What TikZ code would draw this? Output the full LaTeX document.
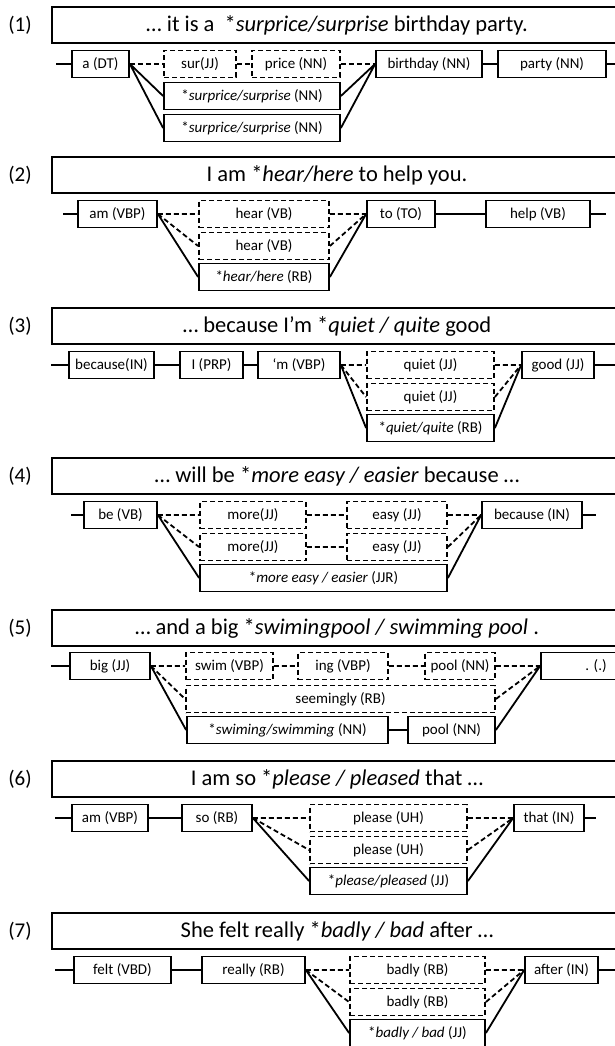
\documentclass[tikz,border=0pt]{standalone}
\usepackage{fontspec}
\setmainfont{Carlito}
\usetikzlibrary{calc}
\tikzset{
  sentbox/.style={draw,line width=1.8pt,minimum width=570,minimum height=36,inner sep=0pt,font=\fontsize{22.5}{26}\selectfont},
  numlbl/.style={inner sep=0pt,font=\fontsize{21}{24}\selectfont},
  tok/.style={draw,line width=1.8pt,minimum height=27,inner sep=0pt,font=\fontsize{15}{17}\selectfont},
  alttok/.style={tok,dash pattern=on 5pt off 3pt},
  link/.style={line width=1.8pt},
  altlink/.style={line width=1.8pt,dash pattern=on 5pt off 3pt}
}

\begin{document}
\begin{tikzpicture}[x=1pt,y=-1pt]
\useasboundingbox (0,0) rectangle (615,1046);

\node[numlbl] (n1) at (20,25) {(1)};
\node[sentbox] (s1) at (337,25) {… it is a\ \ *\textit{surprice/surprise} birthday party.};
\coordinate (l1) at (56,64);
\coordinate (e1) at (622,64);
\node[tok,minimum width=57] (a1) at (100.5,64) {a (DT)};
\node[alttok,minimum width=72] (sur1) at (200,64) {sur(JJ)};
\node[alttok,minimum width=88] (price1) at (296,64) {price (NN)};
\node[tok,minimum width=106] (birthday1) at (429,64) {birthday (NN)};
\node[tok,minimum width=108] (party1) at (552,64) {party (NN)};
\node[tok,minimum width=176] (surpA1) at (252,96) {*\textit{surprice/surprise} (NN)};
\node[tok,minimum width=176] (surpB1) at (252,128) {*\textit{surprice/surprise} (NN)};
\draw[link] (l1) -- (a1.west) (birthday1) -- (party1) (party1.east) -- (e1);
\draw[altlink] (a1) -- (sur1) -- (price1) -- (birthday1);
\draw[link] (a1.east) -- (surpA1.west) (a1.east) -- (surpB1.west)
  (surpA1.east) -- (birthday1.west) (surpB1.east) -- (birthday1.west);

\node[numlbl] (n2) at (20,175) {(2)};
\node[sentbox] (s2) at (337,175) {I am *\textit{hear/here} to help you.};
\coordinate (l2) at (63,214);
\coordinate (e2) at (606,214);
\node[tok,minimum width=79] (am2) at (117.5,214) {am (VBP)};
\node[alttok,minimum width=130] (hearA2) at (264,214) {hear (VB)};
\node[alttok,minimum width=130] (hearB2) at (264,246) {hear (VB)};
\node[tok,minimum width=130] (hearC2) at (264,277) {*\textit{hear/here} (RB)};
\node[tok,minimum width=68] (to2) at (401,214) {to (TO)};
\node[tok,minimum width=104] (help2) at (538,214) {help (VB)};
\draw[link] (l2) -- (am2.west) (to2) -- (help2) (help2.east) -- (e2);
\draw[altlink] (am2.east) -- (hearA2.west) (am2.east) -- (hearB2.west)
  (hearA2.east) -- (to2.west) (hearB2.east) -- (to2.west);
\draw[link] (am2.east) -- (hearC2.west) (hearC2.east) -- (to2.west);

\node[numlbl] (n3) at (20,326) {(3)};
\node[sentbox] (s3) at (337,326) {… because I’m *\textit{quiet / quite} good};
\coordinate (l3) at (51,365);
\coordinate (e3) at (622,365);
\node[tok,minimum width=85] (because3) at (111.5,365) {because(IN)};
\node[tok,minimum width=63] (i3) at (211.5,365) {I (PRP)};
\node[tok,minimum width=82] (m3) at (299,365) {‘m (VBP)};
\node[alttok,minimum width=127] (quietA3) at (430.5,365) {quiet (JJ)};
\node[alttok,minimum width=127] (quietB3) at (430.5,397) {quiet (JJ)};
\node[tok,minimum width=127] (quietC3) at (430.5,428) {*\textit{quiet/quite} (RB)};
\node[tok,minimum width=72] (good3) at (558,365) {good (JJ)};
\draw[link] (l3) -- (because3.west) (because3) -- (i3) -- (m3) (good3.east) -- (e3);
\draw[altlink] (m3.east) -- (quietA3.west) (m3.east) -- (quietB3.west)
  (quietA3.east) -- (good3.west) (quietB3.east) -- (good3.west);
\draw[link] (m3.east) -- (quietC3.west) (quietC3.east) -- (good3.west);

\node[numlbl] (n4) at (20,476) {(4)};
\node[sentbox] (s4) at (337,476) {… will be *\textit{more easy / easier} because …};
\coordinate (l4) at (71,515);
\coordinate (e4) at (596,515);
\node[tok,minimum width=73] (be4) at (120.5,515) {be (VB)};
\node[alttok,minimum width=106] (moreA4) at (253,515) {more(JJ)};
\node[alttok,minimum width=106] (moreB4) at (253,547) {more(JJ)};
\node[alttok,minimum width=100] (easyA4) at (397,515) {easy (JJ)};
\node[alttok,minimum width=100] (easyB4) at (397,547) {easy (JJ)};
\node[tok,minimum width=247] (jjr4) at (323.5,578) {*\textit{more easy / easier} (JJR)};
\node[tok,minimum width=100] (because4) at (532,515) {because (IN)};
\draw[link] (l4) -- (be4.west) (because4.east) -- (e4);
\draw[altlink] (be4.east) -- (moreA4.west) (be4.east) -- (moreB4.west)
  (moreA4) -- (easyA4) (moreB4) -- (easyB4)
  (easyA4.east) -- (because4.west) (easyB4.east) -- (because4.west);
\draw[link] (be4.east) -- (jjr4.west) (jjr4.east) -- (because4.west);

\node[numlbl] (n5) at (20,628) {(5)};
\node[sentbox] (s5) at (337,628) {… and a big *\textit{swimingpool / swimming pool} .};
\coordinate (l5) at (51,666);
\node[tok,minimum width=80] (big5) at (110,666) {big (JJ)};
\node[alttok,minimum width=87] (swim5) at (229.5,666) {swim (VBP)};
\node[alttok,minimum width=90] (ing5) at (343,666) {ing (VBP)};
\node[alttok,minimum width=70] (poolA5) at (460,666) {pool (NN)};
\node[tok,minimum width=110] (dot5) at (596,666) {. (.)};
\node[alttok,minimum width=309] (seem5) at (340.5,699) {seemingly (RB)};
\node[tok,minimum width=201] (swimming5) at (287.5,730) {*\textit{swiming/swimming} (NN)};
\node[tok,minimum width=87] (poolB5) at (451.5,730) {pool (NN)};
\draw[link] (l5) -- (big5.west);
\draw[altlink] (big5) -- (swim5) -- (ing5) -- (poolA5) -- (dot5)
  (big5.east) -- (seem5.west) (seem5.east) -- (dot5.west);
\draw[link] (big5.east) -- (swimming5.west) (swimming5) -- (poolB5)
  (poolB5.east) -- (dot5.west);

\node[numlbl] (n6) at (20,779) {(6)};
\node[sentbox] (s6) at (337,779) {I am so *\textit{please / pleased} that …};
\coordinate (l6) at (55,818);
\coordinate (e6) at (596,818);
\node[tok,minimum width=76] (am6) at (110,818) {am (VBP)};
\node[tok,minimum width=70] (so6) at (217,818) {so (RB)};
\node[alttok,minimum width=157] (pleaseA6) at (388.5,818) {please (UH)};
\node[alttok,minimum width=157] (pleaseB6) at (388.5,850) {please (UH)};
\node[tok,minimum width=157] (pleaseC6) at (388.5,881) {*\textit{please/pleased} (JJ)};
\node[tok,minimum width=70] (that6) at (549,818) {that (IN)};
\draw[link] (l6) -- (am6.west) (am6) -- (so6) (that6.east) -- (e6);
\draw[altlink] (so6.east) -- (pleaseA6.west) (so6.east) -- (pleaseB6.west)
  (pleaseA6.east) -- (that6.west) (pleaseB6.east) -- (that6.west);
\draw[link] (so6.east) -- (pleaseC6.west) (pleaseC6.east) -- (that6.west);

\node[numlbl] (n7) at (20,931) {(7)};
\node[sentbox] (s7) at (337,931) {She felt really *\textit{badly / bad} after …};
\coordinate (l7) at (55,970);
\coordinate (e7) at (622,970);
\node[tok,minimum width=97] (felt7) at (122.5,970) {felt (VBD)};
\node[tok,minimum width=103] (really7) at (253.5,970) {really (RB)};
\node[alttok,minimum width=135] (badA7) at (417.5,970) {badly (RB)};
\node[alttok,minimum width=135] (badB7) at (417.5,1002) {badly (RB)};
\node[tok,minimum width=135] (badC7) at (417.5,1033) {*\textit{badly / bad} (JJ)};
\node[tok,minimum width=73] (after7) at (561.5,970) {after (IN)};
\draw[link] (l7) -- (felt7.west) (felt7) -- (really7) (after7.east) -- (e7);
\draw[altlink] (really7.east) -- (badA7.west) (really7.east) -- (badB7.west)
  (badA7.east) -- (after7.west) (badB7.east) -- (after7.west);
\draw[link] (really7.east) -- (badC7.west) (badC7.east) -- (after7.west);

\end{tikzpicture}
\end{document}
